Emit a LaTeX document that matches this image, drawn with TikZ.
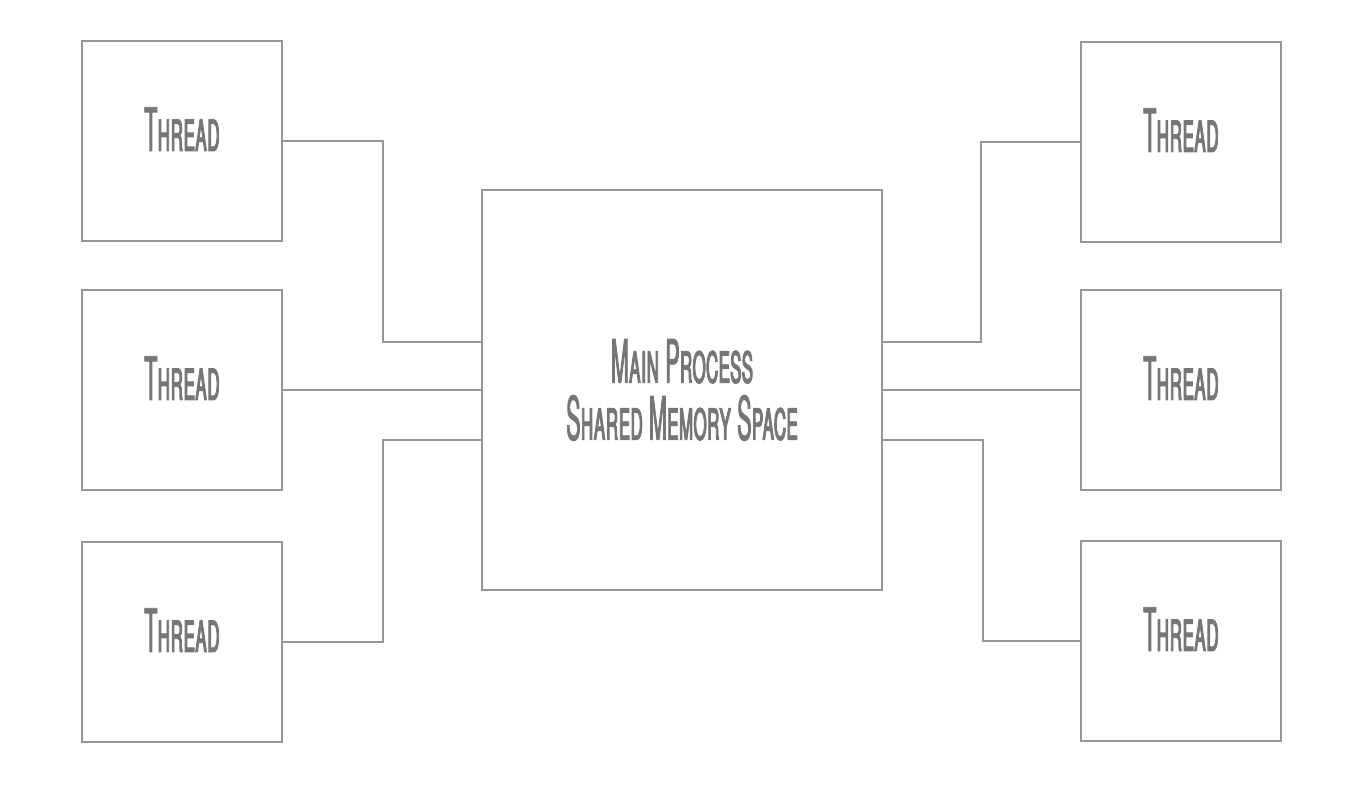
\documentclass[tikz,border=0pt]{standalone}
\usepackage{fontspec}
\newfontfamily\sketchfont[Letters=SmallCaps,FakeStretch=0.36,FakeBold=1.4]{TeX Gyre Heros}
\usepackage{tikz}
\usetikzlibrary{calc}
\definecolor{linegray}{RGB}{150,150,150}
\definecolor{textgray}{RGB}{118,118,118}
\tikzset{
	threadbox/.style={draw=linegray, line width=1.6pt, minimum width=200pt, minimum height=200pt, inner sep=0pt, text height=36pt, text depth=16pt, text=textgray, font=\sketchfont\fontsize{60}{60}\selectfont},
	mainbox/.style={draw=linegray, line width=1.6pt, minimum width=400pt, minimum height=400pt, inner sep=0pt, text=textgray, align=center, font=\sketchfont\fontsize{60}{57}\selectfont},
	wire/.style={draw=linegray, line width=1.6pt}
}

\begin{document}
\begin{tikzpicture}[x=1pt, y=1pt]
			%%%%% START %%%%%
			
			\useasboundingbox (0, 0) rectangle (1370, 800);
			
			\node[mainbox] (main) at (682, 410) {Main Process\\Shared Memory Space};
			
			\node[threadbox] (tl1) at (182, 659) {Thread};
			\node[threadbox] (tl2) at (182, 410) {Thread};
			\node[threadbox] (tl3) at (182, 158) {Thread};
			
			\node[threadbox] (tr1) at (1181, 658) {Thread};
			\node[threadbox] (tr2) at (1181, 410) {Thread};
			\node[threadbox] (tr3) at (1181, 159) {Thread};
			
			\coordinate (ml1) at ($(main.west)+(0, 48)$);
			\coordinate (ml3) at ($(main.west)+(0, -50)$);
			\coordinate (mr1) at ($(main.east)+(0, 48)$);
			\coordinate (mr3) at ($(main.east)+(0, -50)$);
			
			\draw[wire] (tl1.east) -- ++(100, 0) |- (ml1);
			\draw[wire] (tl2.east) -- (main.west);
			\draw[wire] (tl3.east) -- ++(100, 0) |- (ml3);
			
			\draw[wire] (mr1) -- ++(98, 0) |- (tr1.west);
			\draw[wire] (main.east) -- (tr2.west);
			\draw[wire] (mr3) -- ++(100, 0) |- (tr3.west);
			
			%%%%% END %%%%%
		\end{tikzpicture}
\end{document}
